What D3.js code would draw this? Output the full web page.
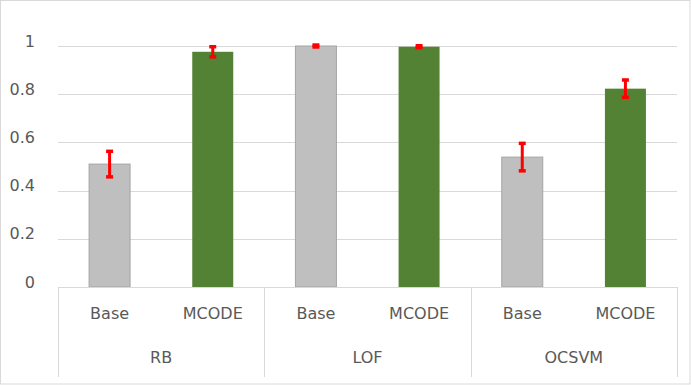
<!DOCTYPE html>
<html>
<head>
<meta charset="utf-8">
<script src="https://cdn.jsdelivr.net/npm/d3@7"></script>
<style>
  html, body { margin: 0; padding: 0; background: #fff; }
  svg { display: block; }
  text { font-family: "DejaVu Sans", sans-serif; fill: #595959; }
</style>
</head>
<body>
<svg id="chart" width="691" height="385"></svg>
<script>
// ---- data ----
const groups = ["RB", "LOF", "OCSVM"];
const methods = ["Base", "MCODE"];
const baseValues  = [0.51, 1.0, 0.539];
const mcodeValues = [0.976, 0.997, 0.823];
const baseErrors  = [0.053, 0.004, 0.057];
const mcodeErrors = [0.021, 0.004, 0.036];
const yTicks = [0, 0.2, 0.4, 0.6, 0.8, 1];
const yTickLabels = ["0", "0.2", "0.4", "0.6", "0.8", "1"];

const seriesValues = [baseValues, mcodeValues];
const seriesErrors = [baseErrors, mcodeErrors];
const fills = ["#BFBFBF", "#548235"];
const strokes = ["#A5A5A5", "none"];

const W = 691, H = 385;
const plot = { left: 58, right: 677, top: 46, bottom: 287, axisBottom: 377 };

const svg = d3.select("#chart");

// outer border
svg.append("rect")
  .attr("x", 0.5).attr("y", 0.5)
  .attr("width", W - 1.5).attr("height", H - 1.5)
  .attr("fill", "#fff").attr("stroke", "#D9D9D9");

const x0 = d3.scaleBand().domain(groups).range([plot.left, plot.right]).padding(0);
const x1 = d3.scaleBand().domain(methods).range([0, x0.bandwidth()]).padding(0);
const y = d3.scaleLinear().domain([0, 1]).range([plot.bottom, plot.top]);

// gridlines
svg.append("g").selectAll("line").data(yTicks.filter(d => d > 0)).join("line")
  .attr("x1", plot.left).attr("x2", plot.right)
  .attr("y1", d => Math.round(y(d)) + 0.5).attr("y2", d => Math.round(y(d)) + 0.5)
  .attr("stroke", "#D9D9D9").attr("stroke-width", 1);

// y labels
svg.append("g").selectAll("text").data(yTicks).join("text")
  .attr("x", 35)
  .attr("y", d => y(d) - 5)
  .attr("text-anchor", "end")
  .attr("dominant-baseline", "central")
  .attr("font-size", 16)
  .text((d, i) => yTickLabels[i]);

// bars
const barW = 41;
const gBars = svg.append("g");
methods.forEach((m, si) => {
  gBars.selectAll(null).data(groups).join("rect")
    .attr("x", g => x0(g) + x1(m) + x1.bandwidth() / 2 - barW / 2)
    .attr("y", (g, gi) => y(seriesValues[si][gi]))
    .attr("width", barW)
    .attr("height", (g, gi) => y(0) - y(seriesValues[si][gi]))
    .attr("fill", fills[si])
    .attr("stroke", strokes[si])
    .attr("stroke-width", 1);
});

// error bars
const gErr = svg.append("g");
methods.forEach((m, si) => {
  groups.forEach((g, gi) => {
    const cx = x0(g) + x1(m) + x1.bandwidth() / 2;
    const v = seriesValues[si][gi], e = seriesErrors[si][gi];
    const top = Math.max(y(v + e), plot.top - 1.5), bot = y(v - e);
    gErr.append("line")
      .attr("x1", cx).attr("x2", cx).attr("y1", top).attr("y2", bot)
      .attr("stroke", "#FF0000").attr("stroke-width", 3);
    [top, bot].forEach(yy => {
      gErr.append("line")
        .attr("x1", cx - 3.5).attr("x2", cx + 3.5).attr("y1", yy).attr("y2", yy)
        .attr("stroke", "#FF0000").attr("stroke-width", 3.5);
    });
  });
});

// category axis box
const gAx = svg.append("g").attr("stroke", "#D9D9D9").attr("stroke-width", 1);
gAx.append("line").attr("x1", plot.left).attr("x2", plot.right)
  .attr("y1", plot.bottom + 0.5).attr("y2", plot.bottom + 0.5);
const seps = groups.map(g => x0(g)).concat([plot.right]);
gAx.selectAll(null).data(seps).join("line")
  .attr("x1", d => Math.round(d) + 0.5).attr("x2", d => Math.round(d) + 0.5)
  .attr("y1", plot.bottom).attr("y2", plot.axisBottom);

// method labels
groups.forEach(g => {
  svg.append("g").selectAll("text").data(methods).join("text")
    .attr("x", m => x0(g) + x1(m) + x1.bandwidth() / 2)
    .attr("y", 313)
    .attr("text-anchor", "middle")
    .attr("dominant-baseline", "central")
    .attr("font-size", 16)
    .text(m => m);
});

// group labels
svg.append("g").selectAll("text").data(groups).join("text")
  .attr("x", g => x0(g) + x0.bandwidth() / 2)
  .attr("y", 357)
  .attr("text-anchor", "middle")
  .attr("dominant-baseline", "central")
  .attr("font-size", 16)
  .text(g => g);
</script>
</body>
</html>
